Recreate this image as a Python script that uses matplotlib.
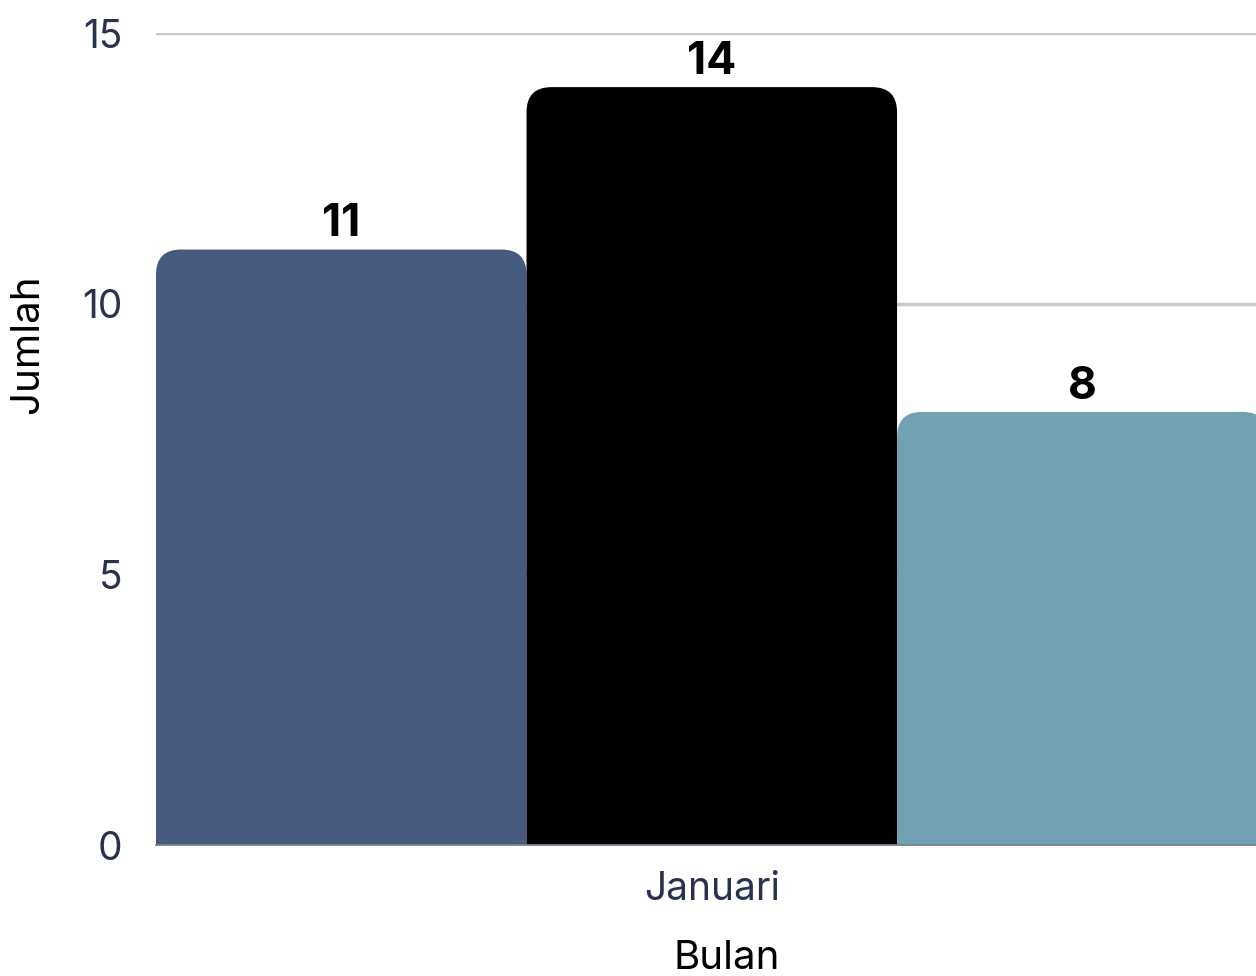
import matplotlib
matplotlib.use("Agg")
import matplotlib.pyplot as plt
import numpy as np
from matplotlib.patches import FancyBboxPatch

plt.rcParams["font.family"] = ["Inter", "DejaVu Sans"]

# data
categories = ["Januari"]
series_values = [11, 14, 8]
series_colors = ["#465a80", "#000000", "#72a1b3"]
y_ticks = [0, 5, 10, 15]

fig = plt.figure(figsize=(12.56, 9.76), dpi=100)
ax = fig.add_axes([156 / 1256, 131 / 976, 1100 / 1256, 812 / 976])

# the group is a little wider than the plot area, so the last bar is cut at the right edge
x_left, x_right = -0.5, 0.4896
ax.set_xlim(x_left, x_right)
ax.set_ylim(0, 15)

n = len(series_values)
width = 1.0 / n
offsets = (np.arange(n) - (n - 1) / 2) * width

# rounded top corners: radius in pixels converted to data units
ax_w_px = 1100
ax_h_px = 812
x_per_px = (x_right - x_left) / ax_w_px
y_per_px = 15.0 / ax_h_px
radius_px = 25
rx = radius_px * x_per_px
ry = radius_px * y_per_px
aspect = y_per_px / x_per_px

for off, v, c in zip(offsets, series_values, series_colors):
    box = FancyBboxPatch((off - width / 2, -ry), width, v + ry,
                         boxstyle=f"round,pad=0,rounding_size={rx}",
                         mutation_aspect=aspect, facecolor=c, edgecolor="none",
                         zorder=3)
    ax.add_patch(box)
    ax.annotate(str(v), (off, v), xytext=(0, 3), textcoords="offset points",
                ha="center", va="bottom", fontsize=32, fontweight="bold",
                color="black", zorder=4)

for t in y_ticks[1:]:
    ax.axhline(t, color="#c8cad0", linewidth=2.5, zorder=1)

for s in ["top", "right", "left"]:
    ax.spines[s].set_visible(False)
ax.spines["bottom"].set_color("#7b8291")
ax.spines["bottom"].set_linewidth(1.3)
ax.spines["bottom"].set_zorder(5)

ax.set_yticks(y_ticks)
ax.set_xticks([0])
ax.set_xticklabels(categories)
ax.tick_params(axis="both", length=0, labelsize=28, labelcolor="#28324f")
ax.tick_params(axis="y", pad=24)
ax.tick_params(axis="x", pad=19)

ax.text(0.519, -0.140, "Bulan", transform=ax.transAxes, ha="center", va="center",
        fontsize=29, color="black")
ax.text(-0.1164, 0.617, "Jumlah", transform=ax.transAxes, ha="center", va="center",
        rotation=90, fontsize=29, color="black")

fig.savefig("out.png", dpi=100)
